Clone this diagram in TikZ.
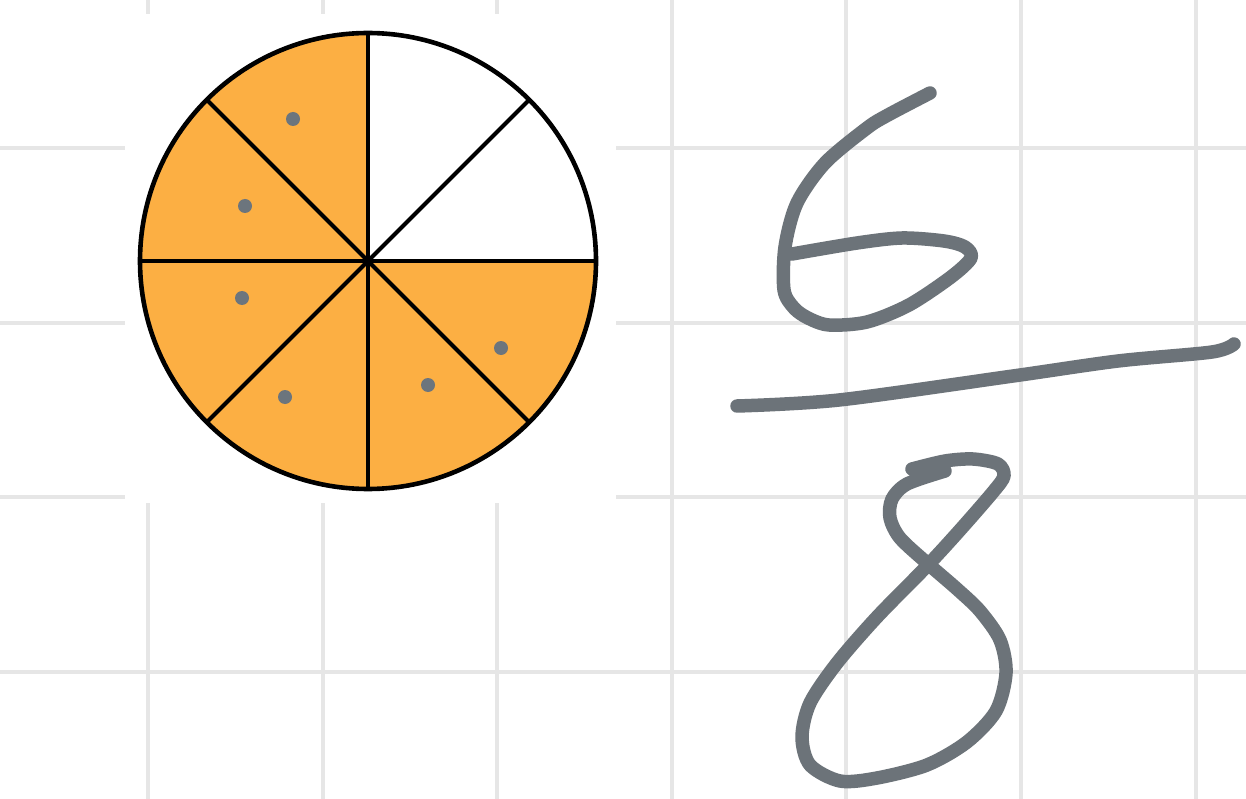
\documentclass[tikz,border=0pt]{standalone}
\begin{document}
\begin{tikzpicture}[x=1pt,y=-1pt,
  gridline/.style={draw=gridgray,line width=4pt},
  sector/.style={fill=pieorange},
  rim/.style={draw=black,line width=4.6pt},
  spoke/.style={draw=black,line width=4.2pt},
  dotmark/.style={fill=dotgray},
  ink/.style={draw=inkgray,line width=13.5pt,line cap=round,line join=round}]
\definecolor{gridgray}{HTML}{E6E6E6}
\definecolor{pieorange}{HTML}{FCAF43}
\definecolor{dotgray}{HTML}{6C757D}
\definecolor{inkgray}{HTML}{6C7379}
\useasboundingbox (0,0) rectangle (1246,799);
\fill[white] (0,0) rectangle (1246,799);
% grid
\foreach \gx in {148,322.6,497.2,671.8,846.4,1021,1195.6}
  \draw[gridline] (\gx,0) -- (\gx,799);
\foreach \gy in {148,322.6,497.2,671.8}
  \draw[gridline] (0,\gy) -- (1246,\gy);
\fill[white] (125,14) rectangle (616,503);
% pie
\coordinate (c) at (368,261);
\def\R{228}
\foreach \a in {90,135,180,225,270,315}
  \fill[sector] (c) -- ++(-\a:\R) arc[start angle=-\a,end angle=-\a-45,radius=\R] -- cycle;
\foreach \a in {0,45,...,315}
  \draw[spoke] (c) -- ++(\a:\R);
\draw[rim] (c) circle[radius=\R];
\foreach \p in {(293,119),(245,206),(242,298),(285,397),(428,385),(501,348)}
  \fill[dotmark] \p circle[radius=7];
% handwritten 6
\draw[ink] plot[smooth,tension=0.5] coordinates {(930,93) (888,115) (867,128) (825,163) (797,203) (785,247) (784,290) (794,308) (808,318) (829,325) (867,322) (909,305) (951,277) (971,258) (965,247) (944,241) (902,238) (857,243) (792,254)};
% fraction bar
\draw[ink] plot[smooth,tension=0.5] coordinates {(737,406) (839,400) (1013,376) (1118,361) (1212,352) (1234,344)};
% handwritten 8
\draw[ink] plot[smooth,tension=0.5] coordinates {(912,469) (945,461) (973,459) (998,464) (1004,476) (993,492) (960,530) (927,566) (877,617) (837,663) (810,703) (802,737) (810,765) (840,781) (877,778) (927,765) (967,742) (996,711) (1006,673) (1000,640) (980,611) (957,589) (927,563) (900,538) (890,518) (892,499) (907,484) (945,471)};
\end{tikzpicture}
\end{document}
